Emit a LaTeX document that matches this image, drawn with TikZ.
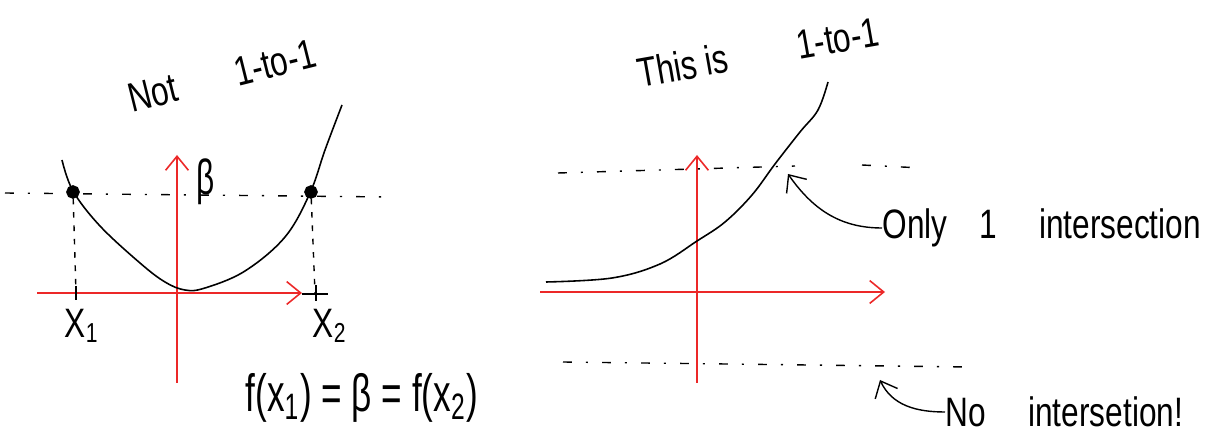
\documentclass[tikz,border=0pt]{standalone}
\usepackage{amsmath, amssymb}
\usepackage{fontspec}
\setmainfont{Liberation Sans}
\usepackage{tikz}
\usetikzlibrary{arrows.meta}

\begin{document}
\begin{tikzpicture}[x=0.1mm, y=-0.1mm,
  axis/.style={-{Straight Barb[length=4pt,width=6.5pt]}, draw={rgb,255:red,236;green,40;blue,40}, line width=0.45pt},
  level/.style={dash pattern=on 2.5pt off 4pt on 0.6pt off 4pt, line width=0.4pt},
  guide/.style={dash pattern=on 1.6pt off 2.2pt, line width=0.4pt},
  pointer/.style={-{Straight Barb[length=4pt,width=7pt]}, line width=0.4pt},
  dot/.style={circle, draw, fill, line width=1pt, inner sep=1pt},
  hand/.style={inner sep=0pt, transform shape, yscale=1.3, font=\fontsize{9}{11}\selectfont}]

\useasboundingbox (0,0) rectangle (1219,433);

% left: parabola, not 1-to-1
\draw[axis] (37,293) -- (302,293);
\draw[axis] (177,383) -- (177,155);

\draw[line width=0.45pt] plot[smooth, tension=0.6] coordinates {(62,160) (73,191) (100,226) (140,263)
  (165,282) (185,290) (205,288) (245,271) (285,237) (310,193) (325,150) (342,105)};

\node[dot] (p1) at (73,192) {};
\node[dot] (p2) at (311,192) {};

\draw[level] (5,193) -- (388,197);
\draw[guide] (p1) -- (76,293);
\draw[guide] (p2) -- (315,293);

\draw[line width=0.8pt] (76,286) -- (76,300);
\draw[line width=0.8pt] (316,285) -- (316,301);
\draw (302,294) -- (328,294);

\node[hand] (x1) at (82,326) {X\textsubscript{1}};
\node[hand] (x2) at (330,326) {X\textsubscript{2}};
\node[hand, yscale=1.2] (beta) at (206,182) {β};

\node[rotate=14, hand] (nottitle) at (222,76) {Not\hspace{17pt}1-to-1};
\node[hand, yscale=1.15, font=\fontsize{10}{12}\selectfont] (feq) at (362,398) {f(x\textsubscript{1}) = β = f(x\textsubscript{2})};

% right: increasing curve, 1-to-1
\draw[axis] (540,292) -- (885,292);
\draw[axis] (697,383) -- (697,155);

\draw[line width=0.45pt] plot[smooth, tension=0.6] coordinates {(546,282) (612,278) (660,264)
  (697,241) (725,222) (752,195) (775,164) (800,132) (818,110) (828,82)};

\draw[level] (558,173) -- (795,166);
\draw[level] (862,165) -- (922,168);
\draw[level] (563,362) -- (970,367);

\node[rotate=10, hand] (istitle) at (758,52) {This is\hspace{20pt}1-to-1};

\node[hand, anchor=west] (only) at (882,228) {Only\hspace{9pt}1\hspace{12pt}intersection};
\node[hand, anchor=west] (none) at (945,412) {No\hspace{12pt}intersetion!};

\coordinate (onlytip) at (788,174);
\coordinate (nonetip) at (880,380);

\draw[pointer] (only.west) to[out=180, in=-55] (onlytip);
\draw[pointer] (none.west) to[out=180, in=-65] (nonetip);

\end{tikzpicture}
\end{document}
